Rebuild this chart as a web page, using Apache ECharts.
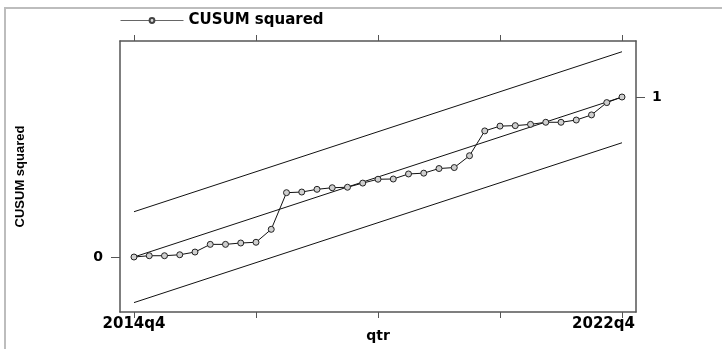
<!DOCTYPE html>
<html>
<head>
<meta charset="utf-8">
<script src="https://cdn.jsdelivr.net/npm/echarts@6/dist/echarts.min.js"></script>
<style>
	html,body{margin:0;padding:0;background:#fff;}
	#container{width:722px;height:349px;}
</style>
</head>
<body>
<div id="container"></div>
<script>
// quarters 2014q4 .. 2022q4 -> index 0..32
var qtrTicks=[0,8,16,24,32];
var qtrLabels={0:'2014q4',32:'2022q4'};
var cusumSq=[0,0.008,0.008,0.014,0.031,0.079,0.079,0.0875,0.092,0.173,
	0.402,0.406,0.423,0.433,0.436,0.462,0.486,0.4875,0.519,0.524,
	0.553,0.559,0.633,0.788,0.818,0.821,0.829,0.842,0.842,0.856,
	0.888,0.965,1.0];
// 5% bands, start and end values
var upperBand=[0.283,1.283];
var lowerBand=[-0.285,0.714];
var meanLine=[0,1];

var bold='bold';
var lblFont='DejaVu Sans';

var myChart=echarts.init(document.getElementById('container'));

function pts(arr){
	return [[0,arr[0]],[32,arr[1]]];
}
var option={
	backgroundColor:'#fff',
	animation:false,
	graphic:[{
		type:'rect',
		shape:{x:5,y:8,width:800,height:400},
		style:{fill:'none',stroke:'#bdbdbd',lineWidth:2},
		silent:true
	}],
	legend:{
		left:115,
		top:8,
		itemWidth:63,
		itemHeight:6,
		textStyle:{fontFamily:lblFont,fontWeight:bold,fontSize:15,color:'#000'},
		data:[{name:'CUSUM squared',lineStyle:{color:'#666',width:1},itemStyle:{color:'#ddd',borderColor:'#444'}}]
	},
	grid:{left:120,right:86,top:41,bottom:37,containLabel:false,outerBoundsMode:'none'},
	xAxis:[{
		type:'value',
		min:-0.918,
		max:32.918,
		name:'qtr',
		nameLocation:'middle',
		nameGap:17,
		nameMoveOverlap:false,
		nameTextStyle:{fontFamily:lblFont,fontWeight:bold,fontSize:14,color:'#000'},
		axisLine:{show:true,onZero:false,lineStyle:{color:'#555',width:1.5}},
		axisTick:{show:true,length:6,customValues:qtrTicks,lineStyle:{color:'#555'}},
		axisLabel:{
			customValues:[0,32],
			margin:5,
			fontFamily:lblFont,fontWeight:bold,fontSize:15,color:'#000',
			formatter:function(v){
				if(v==32) return '{r|'+qtrLabels[32]+'}';
				return qtrLabels[v]||'';
			},
			rich:{r:{fontFamily:lblFont,fontWeight:bold,fontSize:15,color:'#000',padding:[0,37,0,0]}}
		},
		splitLine:{show:false}
	},{
		type:'value',
		position:'top',
		min:-0.918,
		max:32.918,
		axisLine:{show:true,onZero:false,lineStyle:{color:'#555',width:1.5}},
		axisTick:{show:true,length:6,customValues:qtrTicks,lineStyle:{color:'#555'}},
		axisLabel:{show:false},
		splitLine:{show:false}
	}],
	yAxis:[{
		type:'value',
		min:-0.34375,
		max:1.35,
		name:'CUSUM squared',
		nameLocation:'middle',
		nameGap:93,
		nameRotate:90,
		nameMoveOverlap:false,
		nameTextStyle:{fontFamily:'Liberation Sans',fontWeight:bold,fontSize:13,color:'#000'},
		axisLine:{show:true,onZero:false,lineStyle:{color:'#555',width:1.5}},
		axisTick:{show:true,length:9,customValues:[0],lineStyle:{color:'#555'}},
		axisLabel:{customValues:[0],margin:17,fontFamily:lblFont,fontWeight:bold,fontSize:14,color:'#000'},
		splitLine:{show:false}
	},{
		type:'value',
		position:'right',
		min:-0.34375,
		max:1.35,
		axisLine:{show:true,onZero:false,lineStyle:{color:'#555',width:1.5}},
		axisTick:{show:true,length:9,customValues:[1],lineStyle:{color:'#555'}},
		axisLabel:{customValues:[1],margin:16,fontFamily:lblFont,fontWeight:bold,fontSize:14,color:'#000'},
		splitLine:{show:false}
	}],
	series:[{
		name:'CUSUM squared',
		type:'line',
		data:cusumSq.map(function(v,i){return [i,v];}),
		symbol:'circle',
		symbolSize:6,
		lineStyle:{color:'#111',width:1},
		itemStyle:{color:'#cfcfcf',borderColor:'#222',borderWidth:1},
		z:5
	},{
		name:'upper',
		type:'line',
		data:pts(upperBand),
		symbol:'none',
		lineStyle:{color:'#111',width:1}
	},{
		name:'mean',
		type:'line',
		data:pts(meanLine),
		symbol:'none',
		lineStyle:{color:'#111',width:1}
	},{
		name:'lower',
		type:'line',
		data:pts(lowerBand),
		symbol:'none',
		lineStyle:{color:'#111',width:1}
	}]
};
myChart.setOption(option);
</script>
</body>
</html>
